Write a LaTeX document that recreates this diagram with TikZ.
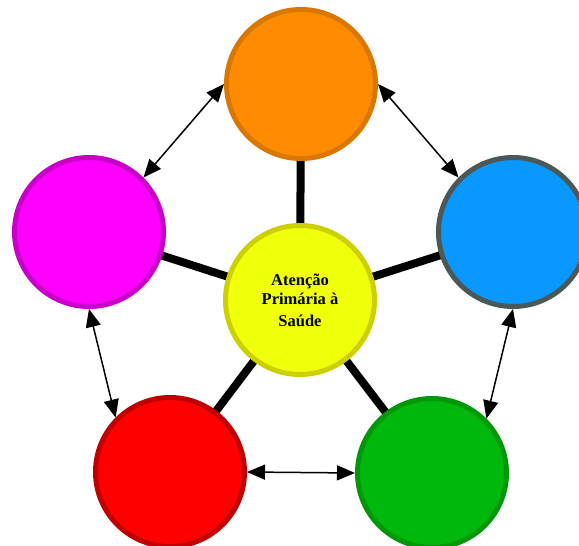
\documentclass[tikz,border=0pt]{standalone}
\usepackage{fontspec}
\setmainfont{Liberation Serif}
\usetikzlibrary{arrows.meta,backgrounds}
\definecolor{orf}{HTML}{FF8C00}\definecolor{orb}{HTML}{D97800}
\definecolor{mgf}{HTML}{FF00FF}\definecolor{mgb}{HTML}{C800C8}
\definecolor{blf}{HTML}{0898FF}\definecolor{blb}{HTML}{4A5858}
\definecolor{rdf}{HTML}{FF0000}\definecolor{rdb}{HTML}{C00000}
\definecolor{grf}{HTML}{00B80C}\definecolor{grb}{HTML}{009808}
\definecolor{ylf}{HTML}{F0FF0A}\definecolor{ylb}{HTML}{CCD000}
\begin{document}
\begin{tikzpicture}[x=1pt,y=-1pt,
  ball/.style={circle, minimum size=149pt, line width=5pt, inner sep=0pt},
  spoke/.style={line width=8pt},
  link/.style={line width=1.5pt, {Triangle[length=18pt,width=15pt]}-{Triangle[length=18pt,width=15pt]}}]
\useasboundingbox (0,0) rectangle (579,546);
\clip (0,0) rectangle (579,546);
\node[ball, fill=ylf, draw=ylb, align=center, font=\bfseries\fontsize{16.5}{19}\selectfont] (center) at (300,300) {Atenção\\Primária à\\[3pt]Saúde};
\node[ball, fill=orf, draw=orb] (orange) at (301,84) {};
\node[ball, fill=mgf, draw=mgb] (magenta) at (89,232) {};
\node[ball, fill=blf, draw=blb] (blue) at (513,232) {};
\node[ball, fill=rdf, draw=rdb] (red) at (170,472) {};
\node[ball, fill=grf, draw=grb] (green) at (432,473) {};
\begin{scope}[on background layer]
\draw[spoke] (center.center) -- (orange.center);
\draw[spoke] (center.center) -- (magenta.center);
\draw[spoke] (center.center) -- (blue.center);
\draw[spoke] (center.center) -- (red.center);
\draw[spoke] (center.center) -- (green.center);
\end{scope}
\draw[link] (orange.180) -- (magenta.45);
\draw[link] (orange.0) -- (blue.135);
\draw[link] (blue.270) -- (green.45);
\draw[link] (magenta.270) -- (red.135);
\draw[link] (red.0) -- (green.180);
\end{tikzpicture}
\end{document}
